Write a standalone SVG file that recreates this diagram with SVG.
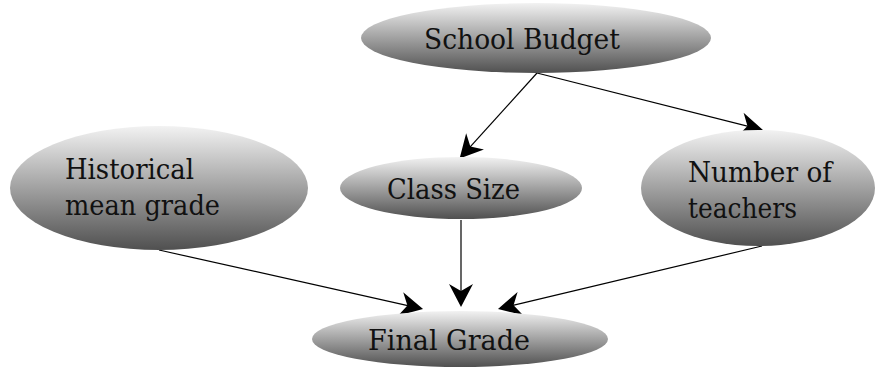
<svg xmlns="http://www.w3.org/2000/svg" width="875" height="368" viewBox="0 0 875 368">
<defs>
<linearGradient id="g" x1="0" y1="0" x2="0" y2="1">
<stop offset="0" stop-color="#f2f2f2"/>
<stop offset="1" stop-color="#505050"/>
</linearGradient>
<marker id="ah" markerUnits="userSpaceOnUse" markerWidth="26" markerHeight="26" viewBox="0 -13 26 26" refX="12" refY="0" orient="auto" overflow="visible">
<path d="M0,-12 L23,0 L0,12 L7,0 Z" fill="#000"/>
</marker>
<style>
.n{fill:url(#g);stroke:none}
.t{font-family:"DejaVu Serif","Liberation Serif",serif;font-size:27px;fill:#111}
.e{stroke:#000;stroke-width:1.2;fill:none;marker-end:url(#ah)}
</style>
</defs>
<g id="connectors">
<path class="e" d="M537,73 L467.0,150.3"/>
<path class="e" d="M537,73 L752.3,127.3"/>
<path class="e" d="M159,250 L412.3,306.6"/>
<path class="e" d="M461,220 L461,296"/>
<path class="e" d="M762,246 L508.7,306.4"/>
</g>
<g id="school-budget">
<ellipse class="n" cx="536" cy="38" rx="175" ry="35"/>
<text class="t" x="424" y="49" textLength="196" lengthAdjust="spacingAndGlyphs">School Budget</text>
</g>
<g id="historical">
<ellipse class="n" cx="159" cy="188" rx="149" ry="62"/>
<text class="t" x="65" y="179" textLength="129" lengthAdjust="spacingAndGlyphs">Historical</text>
<text class="t" x="65" y="215" textLength="155" lengthAdjust="spacingAndGlyphs">mean grade</text>
</g>
<g id="class-size">
<ellipse class="n" cx="461" cy="188" rx="121" ry="31"/>
<text class="t" x="387" y="199" textLength="133" lengthAdjust="spacingAndGlyphs">Class Size</text>
</g>
<g id="teachers">
<ellipse class="n" cx="758" cy="188" rx="117" ry="58"/>
<text class="t" x="688" y="182" textLength="144" lengthAdjust="spacingAndGlyphs">Number of</text>
<text class="t" x="688" y="218" textLength="109" lengthAdjust="spacingAndGlyphs">teachers</text>
</g>
<g id="final-grade">
<ellipse class="n" cx="460" cy="339" rx="148" ry="28"/>
<text class="t" x="368" y="350" textLength="162" lengthAdjust="spacingAndGlyphs">Final Grade</text>
</g>
</svg>
